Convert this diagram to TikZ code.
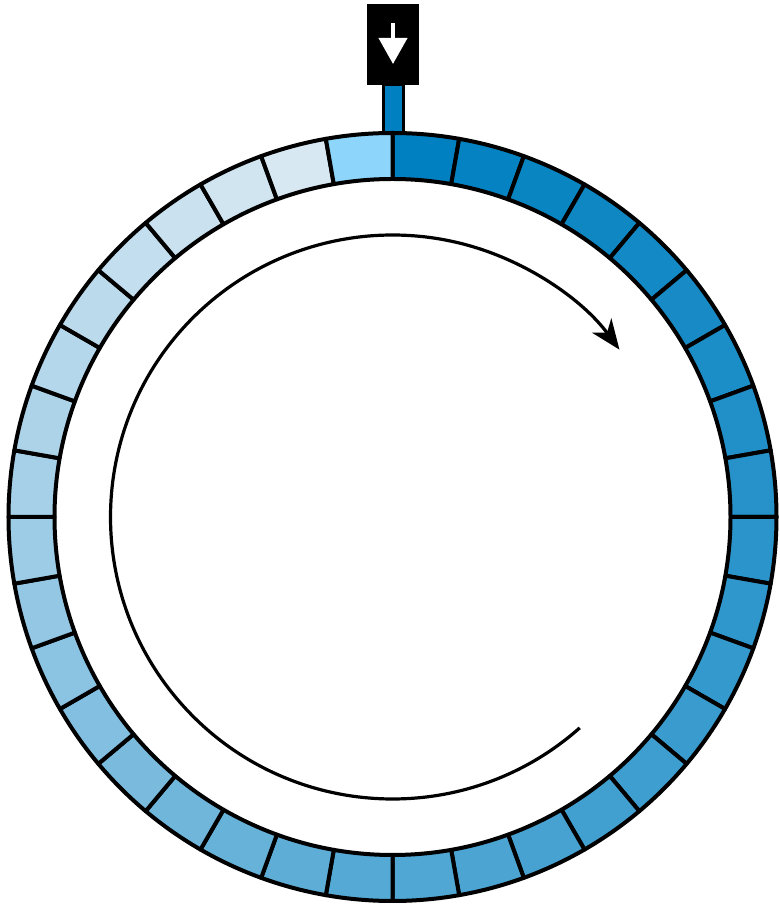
\documentclass[tikz,border=0pt]{standalone}
\usetikzlibrary{arrows.meta}
\definecolor{cA}{HTML}{0080C0}
\definecolor{cB}{HTML}{55A9D5}
\definecolor{cC}{HTML}{A6D0E8}
\definecolor{cD}{HTML}{D8E8F2}
\definecolor{hl}{HTML}{8DD5FB}
\begin{document}
\begin{tikzpicture}[x=0.5pt,y=0.5pt,
  segbox/.style={draw=black,line width=2pt,line join=round},
  stembox/.style={fill=cA,draw=black,line width=1.6pt},
  feedbox/.style={fill=black,inner sep=0pt,minimum width=26pt,minimum height=40.5pt},
  turn/.style={line width=1.6pt,-{Stealth[length=15pt,width=12pt,inset=4.5pt]}}]
\useasboundingbox (0,0) rectangle (780,905);
% stem
\draw[stembox] (383.5,760) rectangle (403.5,821);
% feed box
\node[feedbox,anchor=north] (feed) at (393,901) {};
\draw[white,line width=2pt,-{Triangle[length=13pt,width=14pt]}] (393,882) -- (393,841);
% ring
\begin{scope}[shift={(392.5,388)}]
\foreach \i in {0,...,35}{
  \pgfmathsetmacro{\aa}{90-10*\i}
  \pgfmathsetmacro{\ab}{80-10*\i}
  \ifnum\i<19
    \pgfmathsetmacro{\p}{100*\i/18}
    \colorlet{segc}{cB!\p!cA}
  \else\ifnum\i<28
    \pgfmathsetmacro{\p}{100*(\i-18)/9}
    \colorlet{segc}{cC!\p!cB}
  \else\ifnum\i<35
    \pgfmathsetmacro{\p}{100*(\i-27)/7}
    \colorlet{segc}{cD!\p!cC}
  \else
    \colorlet{segc}{hl}
  \fi\fi\fi
  \filldraw[segbox,fill=segc] (\aa:384) arc[start angle=\aa,end angle=\ab,radius=384]
     -- (\ab:338) arc[start angle=\ab,end angle=\aa,radius=338] -- cycle;
}
\coordinate (s) at (-48.4:282);
\draw[turn] (s) arc[start angle=-48.4,end angle=-323.6,radius=282];
\end{scope}
\end{tikzpicture}
\end{document}
